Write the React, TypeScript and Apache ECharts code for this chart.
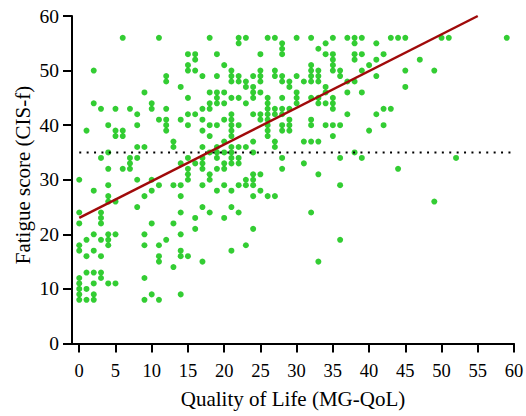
import React, { useEffect, useRef } from "react";
import * as echarts from "echarts";

// Fatigue score (CIS-f) -> list of Quality of Life (MG-QoL) scores at that fatigue level
const qolByFatigue: [number, number[]][] = [
  [56, [6, 11, 18, 22, 23, 26, 27, 30, 32, 35, 37, 38, 39, 43, 44, 45, 50, 51, 59]],
  [55, [22, 28, 34, 38, 41]],
  [54, [28, 33]],
  [53, [15, 16, 19, 25, 28, 34, 35, 38, 39, 42]],
  [52, [16, 35, 38, 41, 47]],
  [51, [15, 20, 32, 35, 40]],
  [50, [2, 15, 16, 21, 25, 27, 32, 33, 35, 36, 39, 45, 49]],
  [49, [12, 17, 19, 21, 22, 24, 25, 27, 28, 30, 32, 33, 36, 41]],
  [48, [12, 21, 22, 23, 25, 28, 29, 31, 32, 33, 37, 38]],
  [47, [14, 23, 24, 29, 34, 45]],
  [46, [9, 18, 19, 20, 24, 25, 30, 34, 37, 39]],
  [45, [15, 19, 21, 22, 24, 26, 28, 30, 32, 33, 35]],
  [44, [2, 10, 18, 19, 20, 23, 26, 30, 33, 34, 35]],
  [43, [3, 5, 7, 10, 12, 17, 18, 26, 27, 28, 29, 35, 42, 43]],
  [42, [8, 15, 16, 21, 24, 25, 26, 27, 28, 37, 41]],
  [41, [11, 12, 14, 17, 20, 21, 25, 26, 29, 32]],
  [40, [4, 8, 12, 15, 18, 19, 21, 22, 26, 28, 29, 32, 34, 35, 36, 42]],
  [39, [1, 5, 6, 12, 17, 21, 26, 28, 29, 40]],
  [38, [5, 6, 18, 21, 26, 35]],
  [37, [13, 20, 24, 27, 31, 32, 33]],
  [36, [8, 9, 13, 17, 19, 21, 22, 23, 27]],
  [35, [4, 18, 19, 20, 21, 24, 38]],
  [34, [3, 7, 8, 15, 17, 19, 21, 22, 28, 36, 39, 52]],
  [33, [7, 14, 16, 17, 20, 21, 22, 31]],
  [32, [4, 6, 7, 15, 17, 19, 20, 28, 44]],
  [31, [15, 18, 24, 25, 33]],
  [30, [0, 8, 10, 15, 18, 23, 24]],
  [29, [4, 11, 13, 14, 17, 20, 22, 23, 24, 36]],
  [28, [2, 10, 19, 21, 25]],
  [27, [4, 9, 14, 24, 26, 27]],
  [26, [4, 5, 49]],
  [25, [8, 17, 21]],
  [24, [0, 3, 14, 18, 22, 32]],
  [23, [3, 16, 20]],
  [22, [0, 3, 10, 13]],
  [21, [16, 24]],
  [20, [2, 4, 5, 9, 14]],
  [19, [1, 3, 4, 12, 36]],
  [18, [0, 4, 9, 11, 23]],
  [17, [0, 2, 14, 21]],
  [16, [1, 3, 11, 14, 15]],
  [15, [11, 17, 33]],
  [14, [13]],
  [13, [1, 2, 3]],
  [12, [0, 3, 9]],
  [11, [0, 2, 4, 5]],
  [10, [0, 1]],
  [9, [0, 2, 10, 14]],
  [8, [0, 1, 2, 9, 11]],
];

// Linear regression line endpoints [QoL, fatigue]
const fitLine: [number, number][] = [
  [0, 23],
  [55, 60],
];

// Cut-off for severe fatigue
const thresholdY = 35;
const thresholdRange = [0, 60];

const xTicks = [0, 5, 10, 15, 20, 25, 30, 35, 40, 45, 50, 55, 60];

const FONT = "'Liberation Serif', 'Times New Roman', Times, serif";

export default function App() {
  const ref = useRef<HTMLDivElement>(null);

  useEffect(() => {
    document.body.style.margin = "0";
    const chart = echarts.init(ref.current!, null, { renderer: "svg" });

    const points: [number, number][] = [];
    qolByFatigue.forEach(([fatigue, qols]) => {
      qols.forEach((q) => points.push([q, fatigue]));
    });

    chart.setOption({
      animation: false,
      backgroundColor: "#ffffff",
      grid: { left: 72, right: 12, top: 16, bottom: 72.5, outerBoundsMode: "none" },
      xAxis: {
        type: "value",
        min: -1,
        max: 60,
        name: "Quality of Life (MG-QoL)",
        nameLocation: "middle",
        nameGap: 45,
        nameTextStyle: { fontFamily: FONT, fontSize: 21, color: "#000" },
        axisLine: { show: true, onZero: false, lineStyle: { color: "#000", width: 2 } },
        axisTick: { show: true, length: 9, customValues: xTicks, lineStyle: { color: "#000", width: 2 } },
        axisLabel: { customValues: xTicks, fontFamily: FONT, fontSize: 18.5, color: "#000", margin: 18 },
        splitLine: { show: false },
      },
      yAxis: {
        type: "value",
        min: 0,
        max: 60,
        interval: 10,
        axisLine: { show: true, onZero: false, lineStyle: { color: "#000", width: 2 } },
        axisTick: { show: true, length: 9, lineStyle: { color: "#000", width: 2 } },
        axisLabel: { fontFamily: FONT, fontSize: 19.5, color: "#000", margin: 13 },
        splitLine: { show: false },
      },
      graphic: [
        {
          type: "text",
          x: 23,
          y: 175,
          rotation: Math.PI / 2,
          style: {
            text: "Fatigue score (CIS-f)",
            font: `21px ${FONT}`,
            fill: "#000",
            textAlign: "center",
            textVerticalAlign: "middle",
          },
        },
      ],
      series: [
        {
          type: "scatter",
          data: points,
          symbol: "circle",
          symbolSize: 6,
          itemStyle: { color: "#00c000" },
          z: 2,
        },
        {
          type: "line",
          data: thresholdRange.map((x) => [x, thresholdY]),
          symbol: "none",
          lineStyle: { color: "#000", width: 2, type: [2, 5.4] },
          z: 3,
        },
        {
          type: "line",
          data: fitLine,
          symbol: "none",
          lineStyle: { color: "#a00a0a", width: 2.5 },
          z: 4,
        },
      ],
    });

    return () => chart.dispose();
  }, []);

  return <div ref={ref} style={{ width: 526, height: 416 }} />;
}
